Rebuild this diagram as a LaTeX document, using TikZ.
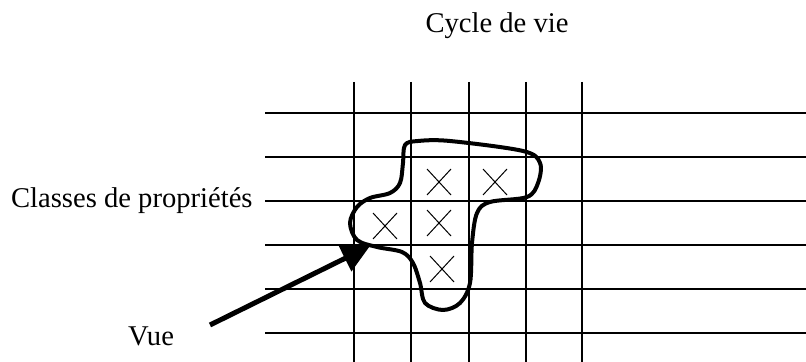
\documentclass[tikz,border=0pt]{standalone}
\usepackage{fontspec}
\setmainfont{Liberation Serif}
\usetikzlibrary{arrows.meta}

\tikzset{
  gridline/.style={line width=0.75pt},
  crossline/.style={line width=0.5pt},
  viewline/.style={line width=2pt, line join=round},
}

\begin{document}
\begin{tikzpicture}[x=0.5pt, y=-0.5pt, font=\fontsize{14.3}{17}\selectfont]
  \useasboundingbox (0,0) rectangle (806,362);
  % grille
  \foreach \y in {113,157,201,245,289,333}
    \draw[gridline] (265,\y) -- (806,\y);
  \foreach \x in {354,411,469,526,582}
    \draw[gridline] (\x,82) -- (\x,362);
  % croix
  \foreach \x/\y in {439/182,495/182,385/226,439/223,442/269}
    \draw[crossline] (\x-12,\y-13) -- (\x+12,\y+13) (\x-12,\y+13) -- (\x+12,\y-13);
  % contour de la vue
  \draw[viewline] plot[smooth cycle, tension=0.55] coordinates {
    (405,145) (418,141) (450,141) (523,151) (540,163) (538,183) (527,197)
    (490,202) (477,213) (472,243) (470,283) (460,303) (443,310)
    (425,303) (420,283) (413,263) (402,252) (377,247) (357,240)
    (350,223) (357,207) (370,198) (390,193) (400,183) (403,163)};
  \node (cycle) at (497,26) {Cycle de vie};
  \node[anchor=east, inner sep=0pt] (classes) at (253,201) {Classes de propriétés};
  \node (vue) at (151,336) {Vue};
  \coordinate (tail) at (210,325);
  \coordinate (tip) at (370,246);
  \draw[line width=2.5pt, -{Triangle[length=14pt,width=14pt]}] (tail) -- (tip);
\end{tikzpicture}
\end{document}
